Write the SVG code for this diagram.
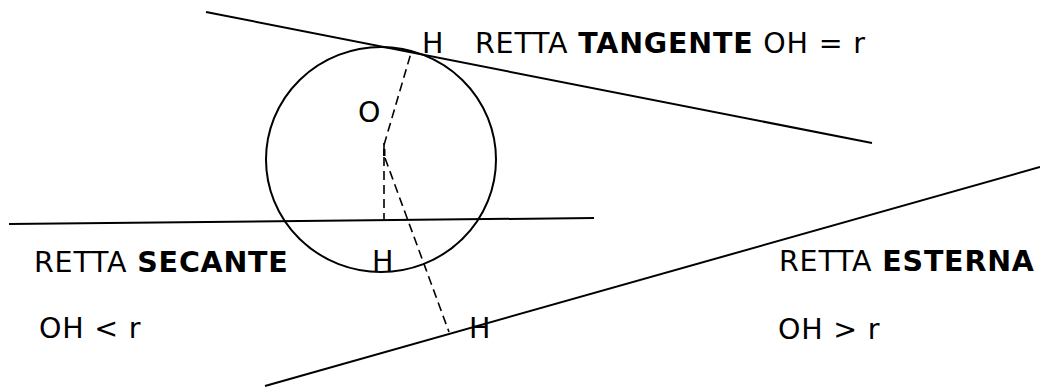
<svg xmlns="http://www.w3.org/2000/svg" width="1040" height="387" viewBox="0 0 1040 387">
<style>
.ln{stroke:#000;stroke-width:2;fill:none}
.ds{stroke:#000;stroke-width:1.6;fill:none;stroke-dasharray:9,5}
.t{font-family:"DejaVu Sans","Verdana",sans-serif;font-size:28.5px;fill:#000;letter-spacing:0.8px}
.b{font-weight:bold}
</style>
<rect width="1040" height="387" fill="#fff"/>
<g id="circle">
<ellipse class="ln" cx="381" cy="159.5" rx="115" ry="112.5"/>
<rect x="383" y="149" width="2.5" height="7" fill="#000"/>
<text class="t" x="358" y="122">O</text>
</g>
<g id="connectors">
<line class="ln" x1="206" y1="12" x2="872" y2="143"/>
<line class="ln" x1="9" y1="224" x2="594" y2="218"/>
<line class="ln" x1="265" y1="386" x2="1040" y2="167"/>
<line class="ds" x1="384" y1="145" x2="411" y2="53"/>
<line class="ds" x1="384" y1="143" x2="384" y2="220"/>
<line class="ds" x1="385" y1="158" x2="449" y2="332"/>
</g>
<g id="tangente">
<text class="t" x="422" y="53">H</text>
<text class="t" x="475" y="53">RETTA <tspan class="b">TANGENTE</tspan> OH = r</text>
</g>
<g id="secante">
<text class="t" x="372" y="271">H</text>
<text class="t" x="34" y="272">RETTA <tspan class="b">SECANTE</tspan></text>
<text class="t" x="39" y="338">OH &lt; r</text>
</g>
<g id="esterna">
<text class="t" x="469" y="338">H</text>
<text class="t" x="779" y="271">RETTA <tspan class="b">ESTERNA</tspan></text>
<text class="t" x="778" y="339">OH &gt; r</text>
</g>
</svg>
